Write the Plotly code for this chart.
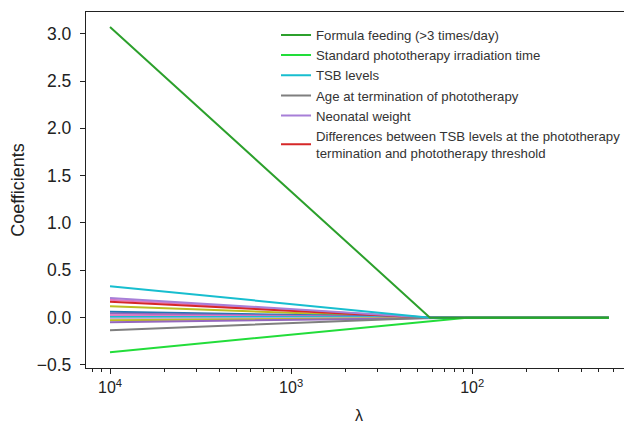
import plotly.graph_objects as go

# lambda grid (penalty values) at which coefficients are read
lambdas = [10000, 171, 107, 17.6]

# labelled series (coefficients at each lambda)
formula_feeding = [3.07, 0.0, 0.0, 0.0]
standard_photo = [-0.365, -0.04, 0.0, 0.0]
tsb_levels = [0.331, 0.0, 0.0, 0.0]
age_termination = [-0.134, 0.0, 0.0, 0.0]
neonatal_weight = [0.208, 0.0, 0.0, 0.0]
tsb_differences = [0.168, 0.0, 0.0, 0.0]

# other (unlabelled) covariates
other_start = [0.19, 0.12, 0.062, 0.044, 0.026, 0.008, -0.01, -0.028, -0.048]
other_colors = ["#e377c2", "#bcbd22", "#1f77b4", "#9467bd", "#e377c2",
                "#17becf", "#c5b0d5", "#bcbd22", "#9467bd"]

legend_names = [
    "Formula feeding (>3 times/day)",
    "Standard phototherapy irradiation time",
    "TSB levels",
    "Age at termination of phototherapy",
    "Neonatal weight",
    "Differences between TSB levels at the phototherapy<br>termination and phototherapy threshold",
]
legend_series = [formula_feeding, standard_photo, tsb_levels,
                 age_termination, neonatal_weight, tsb_differences]
legend_colors = ["#2ca02c", "#22dd3a", "#17becf", "#7f7f7f", "#a77fd8", "#d62728"]

x_tickvals_lambda = [10000, 1000, 100]
x_ticktext = ["10<sup>4</sup>", "10<sup>3</sup>", "10<sup>2</sup>"]

inv = [1.0 / l for l in lambdas]

fig = go.Figure()

for v, c in zip(other_start, other_colors):
    fig.add_trace(go.Scatter(x=inv, y=[v, 0.0, 0.0, 0.0], mode="lines",
                             line=dict(color=c, width=2), showlegend=False,
                             hoverinfo="skip"))

# draw order: legend order reversed so formula feeding on top
for name, ys, c in list(zip(legend_names, legend_series, legend_colors))[::-1]:
    fig.add_trace(go.Scatter(x=inv, y=ys, mode="lines", name=name,
                             line=dict(color=c, width=2)))

minor_vals = [k * 10.0 ** e for e in (-5, -4, -3, -2) for k in range(2, 10)]

# the page body adds an 8px offset, so the figure is 624x416 and margins compensate
fig.update_layout(
    width=624, height=416,
    margin=dict(l=78, r=0, t=4, b=55.5),
    paper_bgcolor="white", plot_bgcolor="white",
    font=dict(family="Liberation Sans, Arial, sans-serif", size=14, color="#222"),
    showlegend=True,
    legend=dict(x=0.348, y=0.978, xanchor="left", yanchor="top",
                bgcolor="rgba(0,0,0,0)", traceorder="reversed",
                font=dict(size=13.2, color="#333"), tracegroupgap=0),
    xaxis=dict(
        type="log", range=[-4.1326, -1.1177], automargin=False,
        tickmode="array", tickvals=[1.0 / l for l in x_tickvals_lambda],
        ticktext=x_ticktext, tickfont=dict(size=16),
        ticks="outside", ticklen=5, tickcolor="#222",
        showline=True, linecolor="#222", linewidth=1.3, mirror=True,
        showgrid=False, zeroline=False,
        minor=dict(tickmode="array", tickvals=minor_vals, ticks="outside",
                   ticklen=3, tickcolor="#222", showgrid=False),
        title=dict(text="λ", font=dict(size=16)),
    ),
    yaxis=dict(
        range=[-0.532, 3.229], automargin=False,
        tickvals=[-0.5, 0, 0.5, 1.0, 1.5, 2.0, 2.5, 3.0],
        ticktext=["\u22120.5", "0.0", "0.5", "1.0", "1.5", "2.0", "2.5", "3.0"],
        tickfont=dict(size=17.5), ticklabelstandoff=5,
        ticks="outside", ticklen=5, tickcolor="#222",
        showline=True, linecolor="#222", linewidth=1.3, mirror=False,
        showgrid=False, zeroline=False,
        title=dict(text="Coefficients", font=dict(size=18)),
    ),
)

fig.write_html("out.html")
